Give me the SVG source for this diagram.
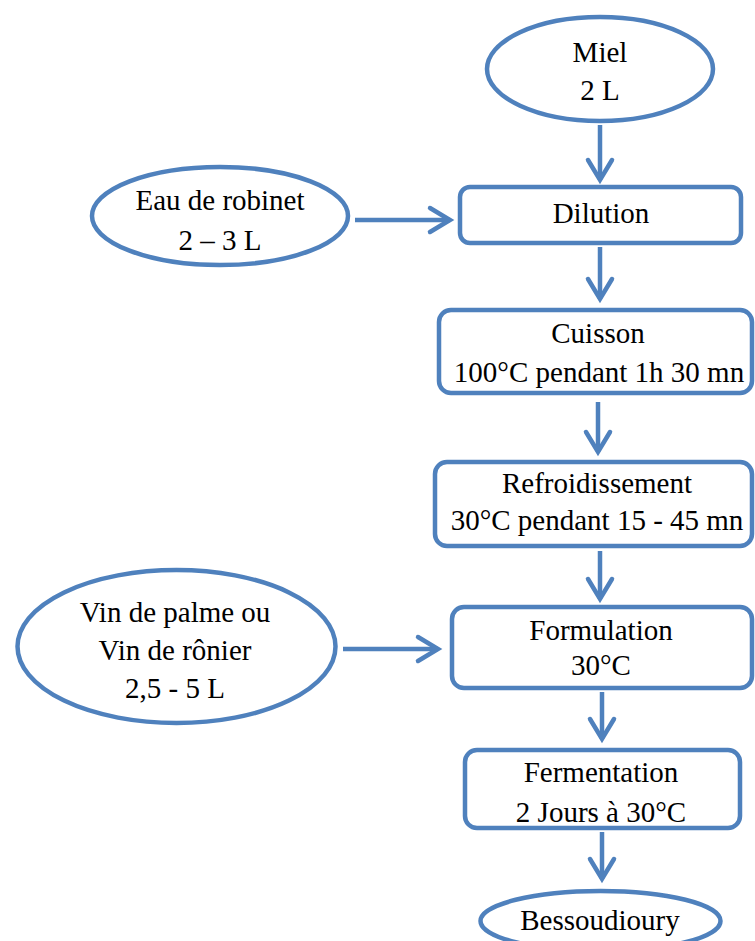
<svg xmlns="http://www.w3.org/2000/svg" width="755" height="941" viewBox="0 0 755 941">
  <style>
    .shape { fill: #ffffff; stroke: #4F81BD; stroke-width: 4.5; }
    .edge { fill: none; stroke: #4F81BD; stroke-width: 4.5; }
    .label { font-size: 29px; fill: #000000; text-anchor: middle; }
  </style>
  <defs>
    <marker id="chevron" markerUnits="userSpaceOnUse" viewBox="-26 -16 30 32" refX="0" refY="0" markerWidth="30" markerHeight="32" orient="auto" overflow="visible">
      <path d="M -20,-12 L 0,0 L -20,12" fill="none" stroke="#4F81BD" stroke-width="4.5" stroke-linecap="round" stroke-linejoin="miter"/>
    </marker>
  </defs>
  <rect width="755" height="941" fill="#ffffff"/>

  <g id="connectors">
    <line class="edge" x1="600" y1="125" x2="600" y2="180" marker-end="url(#chevron)"/>
    <line class="edge" x1="355" y1="220" x2="450" y2="220" marker-end="url(#chevron)"/>
    <line class="edge" x1="600" y1="247" x2="600" y2="299" marker-end="url(#chevron)"/>
    <line class="edge" x1="598" y1="402" x2="598" y2="452" marker-end="url(#chevron)"/>
    <line class="edge" x1="600" y1="551" x2="600" y2="599" marker-end="url(#chevron)"/>
    <line class="edge" x1="343" y1="649" x2="438" y2="649" marker-end="url(#chevron)"/>
    <line class="edge" x1="602" y1="692" x2="602" y2="739" marker-end="url(#chevron)"/>
    <line class="edge" x1="602" y1="832" x2="602" y2="879" marker-end="url(#chevron)"/>
  </g>

  <g id="nodes" font-family="Liberation Serif">
  <g id="miel">
    <ellipse class="shape" cx="600" cy="69" rx="113" ry="52"/>
    <text class="label" x="600" y="62">Miel</text>
    <text class="label" x="600" y="100">2 L</text>
  </g>

  <g id="eau-robinet">
    <ellipse class="shape" cx="220" cy="216" rx="128" ry="49"/>
    <text class="label" x="220" y="210">Eau de robinet</text>
    <text class="label" x="220" y="250">2 – 3 L</text>
  </g>

  <g id="dilution">
    <rect class="shape" x="460" y="187" width="281" height="56" rx="10"/>
    <text class="label" x="601" y="223">Dilution</text>
  </g>

  <g id="cuisson">
    <rect class="shape" x="439" y="310" width="313" height="83" rx="12"/>
    <text class="label" x="598" y="343">Cuisson</text>
    <text class="label" x="599" y="382">100°C pendant 1h 30 mn</text>
  </g>

  <g id="refroidissement">
    <rect class="shape" x="435" y="462" width="317" height="84" rx="12"/>
    <text class="label" x="597" y="493">Refroidissement</text>
    <text class="label" x="597" y="530">30°C pendant 15 - 45 mn</text>
  </g>

  <g id="vin">
    <ellipse class="shape" cx="176.5" cy="646.5" rx="159" ry="76.5"/>
    <text class="label" x="175" y="622">Vin de palme ou</text>
    <text class="label" x="175" y="660">Vin de rônier</text>
    <text class="label" x="175" y="698">2,5 - 5 L</text>
  </g>

  <g id="formulation">
    <rect class="shape" x="452" y="607" width="300" height="81" rx="12"/>
    <text class="label" x="601" y="640">Formulation</text>
    <text class="label" x="601" y="675">30°C</text>
  </g>

  <g id="fermentation">
    <rect class="shape" x="465" y="750" width="275" height="78" rx="12"/>
    <text class="label" x="601" y="782">Fermentation</text>
    <text class="label" x="601" y="822">2 Jours à 30°C</text>
  </g>

  <g id="bessoudioury">
    <ellipse class="shape" cx="600.5" cy="921" rx="120" ry="30"/>
    <text class="label" x="600" y="930">Bessoudioury</text>
  </g>
  </g>
</svg>
